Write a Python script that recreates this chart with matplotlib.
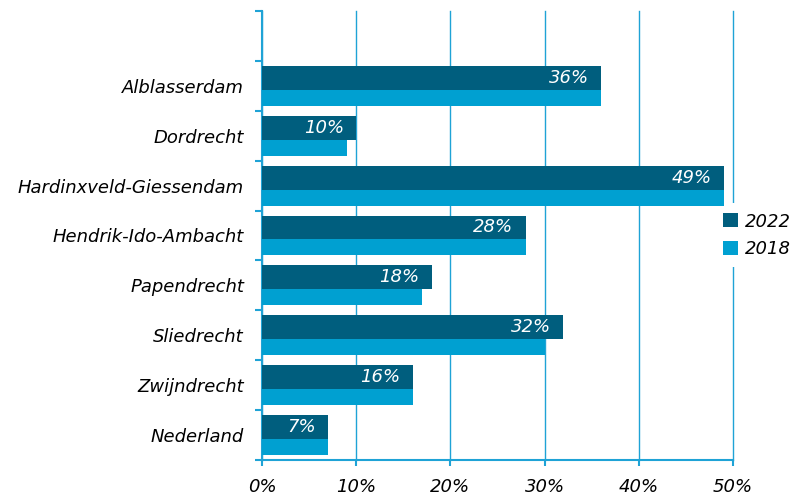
import numpy as np
import matplotlib.pyplot as plt

# gemeenten van boven naar beneden
gemeenten = ["Alblasserdam", "Dordrecht", "Hardinxveld-Giessendam", "Hendrik-Ido-Ambacht",
             "Papendrecht", "Sliedrecht", "Zwijndrecht", "Nederland"]
waarden_2022 = [36, 10, 49, 28, 18, 32, 16, 7]
waarden_2018 = [36, 9, 49, 28, 17, 30, 16, 7]
x_ticks = [0, 10, 20, 30, 40, 50]

kleur_2022 = "#005E7E"
kleur_2018 = "#00A0D1"
kleur_as = "#1FA3D6"

plt.rcParams["font.family"] = "DejaVu Sans"

fig = plt.figure(figsize=(7.92, 4.98), dpi=100)
ax = fig.add_axes([0.3308, 0.0763, 0.5947, 0.9017])

n = len(gemeenten)
y = np.arange(n)[::-1].astype(float)  # 7..0, bovenste vak blijft leeg

ax.barh(y + 0.16, waarden_2022, height=0.48, color=kleur_2022, label="2022", zorder=3)
ax.barh(y - 0.24, waarden_2018, height=0.32, color=kleur_2018, label="2018", zorder=3)

for yi, v in zip(y, waarden_2022):
    ax.text(v - 1.3, yi + 0.16, f"{v}%", ha="right", va="center", color="white",
            style="italic", fontsize=13, zorder=4)

ax.set_xlim(0, 50)
ax.set_ylim(-0.5, n + 0.5)

ax.set_xticks(x_ticks)
ax.set_xticklabels([f"{t}%" for t in x_ticks], style="italic", fontsize=13)
ax.tick_params(axis="x", length=4, width=1.5, color=kleur_as, pad=9, direction="out")

ax.set_yticks(np.arange(-0.5, n + 1, 1.0))
ax.set_yticklabels([])
ax.tick_params(axis="y", which="major", length=5, width=1.5, color=kleur_as, direction="out")
ax.set_yticks(y, minor=True)
ax.set_yticklabels(gemeenten, minor=True, style="italic", fontsize=13)
ax.tick_params(axis="y", which="minor", length=0, pad=13)

ax.grid(axis="x", color=kleur_as, linewidth=1, zorder=0)
for gl in ax.get_xgridlines():
    gl.set_clip_on(False)
for s in ["top", "right"]:
    ax.spines[s].set_visible(False)
for s in ["left", "bottom"]:
    ax.spines[s].set_color(kleur_as)
    ax.spines[s].set_linewidth(1.5)

leg = ax.legend(loc="center left", bbox_to_anchor=(0.96, 0.50), frameon=True, fontsize=13,
                handlelength=0.8, handleheight=0.8, handletextpad=0.4, labelspacing=0.55,
                borderpad=0.5, borderaxespad=0)
leg.get_frame().set_edgecolor("none")
leg.get_frame().set_facecolor("white")
leg.get_frame().set_alpha(1)
leg.set_zorder(2.5)  # boven de rasterlijnen, onder de balken
for t in leg.get_texts():
    t.set_style("italic")

fig.savefig("out.png", dpi=100)
